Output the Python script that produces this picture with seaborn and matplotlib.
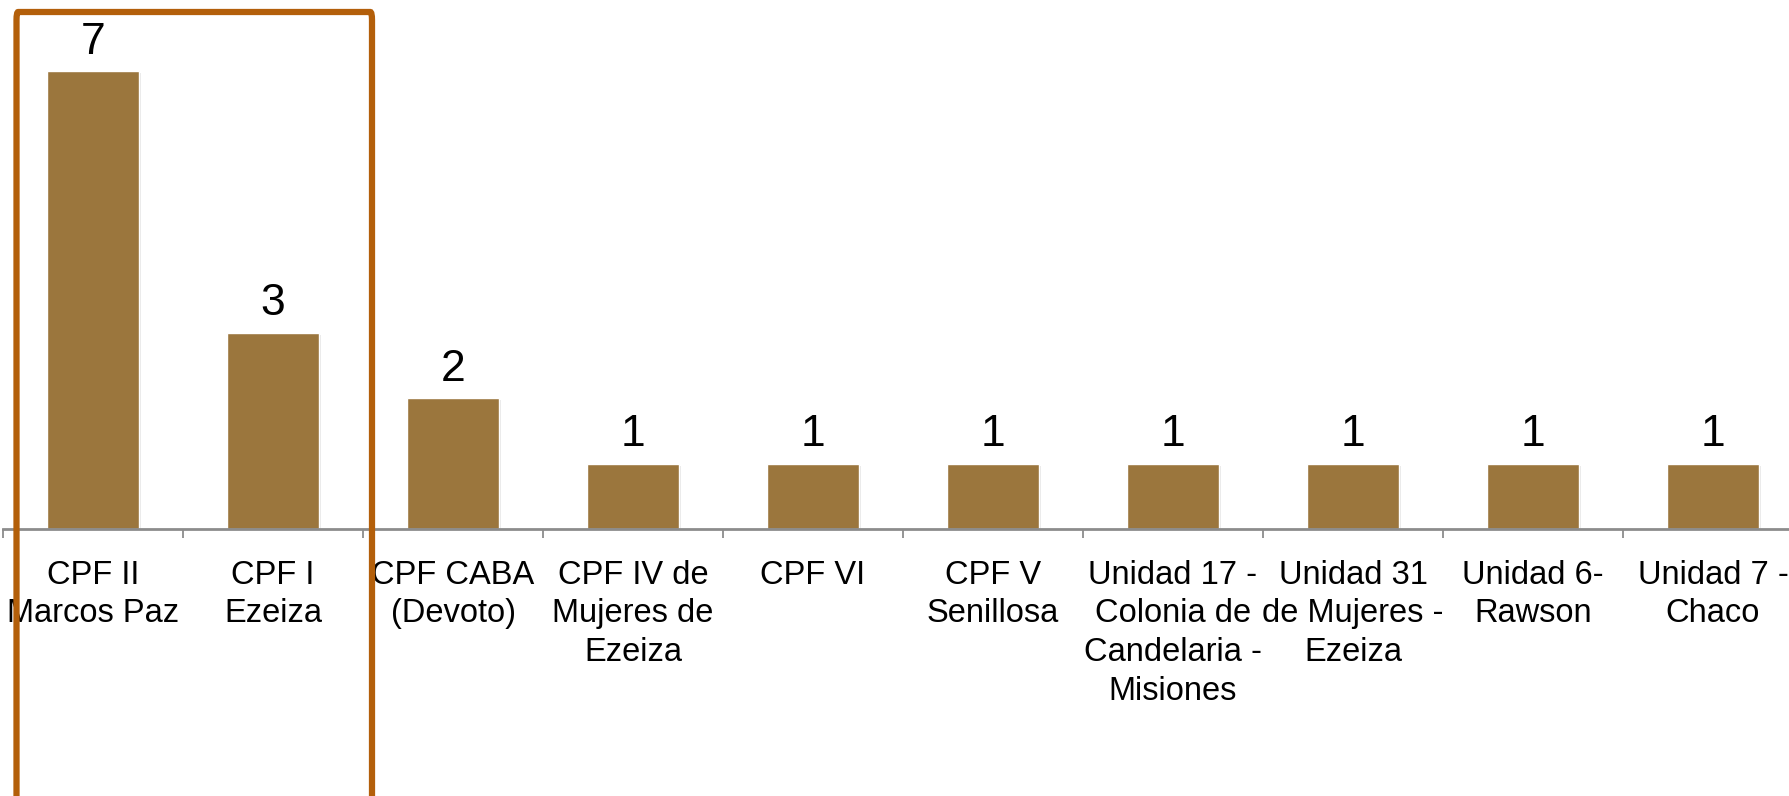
import numpy as np
import pandas as pd
import matplotlib
matplotlib.use("Agg")
import matplotlib.pyplot as plt
import matplotlib.patheffects as pe
import matplotlib.transforms as mtransforms
from matplotlib.patches import FancyBboxPatch
import seaborn as sns

# --- data ---
CATEGORIES = [
    "CPF II\nMarcos Paz",
    "CPF I\nEzeiza",
    "CPF CABA\n(Devoto)",
    "CPF IV de\nMujeres de\nEzeiza",
    "CPF VI",
    "CPF V\nSenillosa",
    "Unidad 17 -\nColonia de\nCandelaria -\nMisiones",
    "Unidad 31\nde Mujeres -\nEzeiza",
    "Unidad 6-\nRawson",
    "Unidad 7 -\nChaco",
]
COUNTS = [7, 3, 2, 1, 1, 1, 1, 1, 1, 1]
HIGHLIGHT = [0, 1]  # categories boxed in orange

BAR_COLOR = "#9B763D"
AXIS_COLOR = "#8C8C8C"
BOX_COLOR = "#B35F0A"

sns.set_theme(style="white")
plt.rcParams['font.family'] = ['Liberation Sans', 'DejaVu Sans']

df = pd.DataFrame({"cat": CATEGORIES, "n": COUNTS})

fig = plt.figure(figsize=(17.89, 7.96), dpi=100)
W, H = 1789, 796
ax = fig.add_axes([3 / W, 267 / H, 1800 / W, 529 / H])

sns.barplot(data=df, x="cat", y="n", color=BAR_COLOR, width=0.51,
            saturation=1, ax=ax)
for p in ax.patches:
    p.set_path_effects([pe.SimplePatchShadow(offset=(1.5, -1.5), shadow_rgbFace="#bbbbbb", alpha=0.35),
                        pe.Normal()])

ax.set_xlim(-0.5, len(CATEGORIES) - 0.5)
ax.set_ylim(0, 529 / 65.4)

ax.bar_label(ax.containers[0], labels=[str(v) for v in COUNTS],
             fontsize=32, padding=6, color="black")

for s in ["top", "left", "right"]:
    ax.spines[s].set_visible(False)
ax.spines["bottom"].set_color(AXIS_COLOR)
ax.spines["bottom"].set_linewidth(2)
ax.set_yticks([])
ax.set_xlabel("")
ax.set_ylabel("")

ax.set_xticks(range(len(CATEGORIES)))
ax.set_xticklabels(CATEGORIES, fontsize=23.5, multialignment="center", linespacing=1.32)
ax.tick_params(axis="x", which="major", bottom=True, length=0, pad=22, colors="black")
ax.set_xticks(np.arange(-0.5, len(CATEGORIES), 1), minor=True)
ax.tick_params(axis="x", which="minor", bottom=True, length=6.5, width=1.3,
               color=AXIS_COLOR, direction="out")

# orange highlight box round the first categories
trans = mtransforms.blended_transform_factory(ax.transData, fig.transFigure)
x0 = min(HIGHLIGHT) - 0.5 + 13.5 / 180
x1 = max(HIGHLIGHT) + 0.5 + 9 / 180
box = FancyBboxPatch((x0, -0.05), x1 - x0, 1.0 - 12 / H + 0.05,
                     boxstyle="round,pad=0,rounding_size=0.01",
                     transform=trans, fill=False, edgecolor=BOX_COLOR,
                     linewidth=4.5, clip_on=False, zorder=5, mutation_aspect=1)
fig.add_artist(box)

fig.savefig("out.png", dpi=100)
